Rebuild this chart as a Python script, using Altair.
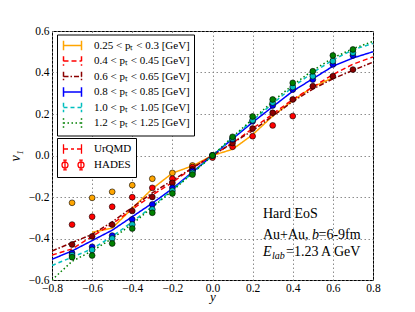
import altair as alt
import pandas as pd

# ---- categories ----
bins = ["0.25 < pₜ < 0.3 [GeV]", "0.4 < pₜ < 0.45 [GeV]", "0.6 < pₜ < 0.65 [GeV]",
        "0.8 < pₜ < 0.85 [GeV]", "1.0 < pₜ < 1.05 [GeV]", "1.2 < pₜ < 1.25 [GeV]"]
colors = ["#FFA500", "#FF0000", "#8B0000", "#0000FF", "#00BFBF", "#008000"]
dashes = [[1, 0], [5, 3], [5, 2, 1.5, 2], [1, 0], [4, 3], [1.5, 2.5]]
sources = ["UrQMD", "HADES"]

# ---- UrQMD curves ----
x_full = [-0.8, -0.7, -0.6, -0.5, -0.4, -0.3, -0.2, -0.1, 0.0, 0.1, 0.2, 0.3, 0.4, 0.5, 0.6, 0.7, 0.8]
x_orange = [-0.6, -0.5, -0.4, -0.3, -0.2, -0.1, 0.0, 0.1, 0.2, 0.3, 0.4, 0.5, 0.6]
u_orange = [-0.37, -0.35, -0.255, -0.16, -0.085, -0.05, 0.0, 0.03, 0.10, 0.19, 0.265, 0.33, 0.375]
u_red = [-0.48, -0.45, -0.39, -0.33, -0.26, -0.19, -0.13, -0.06, 0.0, 0.06, 0.13, 0.20, 0.27, 0.33, 0.39, 0.44, 0.475]
u_darkred = [-0.46, -0.42, -0.38, -0.32, -0.25, -0.18, -0.12, -0.06, 0.0, 0.06, 0.12, 0.19, 0.26, 0.32, 0.37, 0.41, 0.45]
u_blue = [-0.50, -0.46, -0.41, -0.36, -0.295, -0.23, -0.16, -0.08, 0.0, 0.08, 0.16, 0.235, 0.31, 0.37, 0.43, 0.47, 0.50]
u_cyan = [-0.53, -0.49, -0.45, -0.39, -0.32, -0.245, -0.165, -0.085, 0.0, 0.085, 0.17, 0.25, 0.33, 0.40, 0.46, 0.51, 0.54]
u_green = [-0.60, -0.51, -0.46, -0.40, -0.33, -0.25, -0.17, -0.085, 0.0, 0.09, 0.175, 0.26, 0.34, 0.41, 0.47, 0.515, 0.55]

# ---- HADES data ----
h_x_orange = [-0.7, -0.6, -0.5, -0.4, -0.3, -0.2, -0.1, 0.0]
h_x_red = [-0.7, -0.6, -0.5, -0.4, -0.3, -0.2, -0.1, 0.0, 0.1, 0.2, 0.3, 0.4]
h_x_full = [-0.7, -0.6, -0.5, -0.4, -0.3, -0.2, -0.1, 0.0, 0.1, 0.2, 0.3, 0.4, 0.5, 0.6, 0.7]
h_orange = [-0.228, -0.204, -0.175, -0.143, -0.112, -0.084, -0.048, 0.0]
h_red = [-0.333, -0.295, -0.247, -0.201, -0.156, -0.112, -0.056, -0.01, 0.042, 0.093, 0.145, 0.19]
h_darkred = [-0.429, -0.39, -0.333, -0.267, -0.2, -0.132, -0.067, 0.0, 0.06, 0.13, 0.206, 0.27, 0.334, 0.382, 0.414]
h_blue = [-0.47, -0.44, -0.386, -0.308, -0.236, -0.156, -0.075, 0.0, 0.078, 0.165, 0.241, 0.318, 0.366, 0.439, 0.482]
h_cyan = [-0.48, -0.455, -0.40, -0.333, -0.26, -0.17, -0.084, 0.0, 0.082, 0.17, 0.255, 0.33, 0.382, 0.455, 0.495]
h_green = [-0.49, -0.482, -0.424, -0.352, -0.276, -0.183, -0.092, 0.0, 0.09, 0.188, 0.27, 0.35, 0.406, 0.482, 0.511]

x_ticks = [-0.8, -0.6, -0.4, -0.2, 0.0, 0.2, 0.4, 0.6, 0.8]
y_ticks = [-0.6, -0.4, -0.2, 0.0, 0.2, 0.4, 0.6]

# ---- build tables ----
line_sets = [(x_orange, u_orange), (x_full, u_red), (x_full, u_darkred),
             (x_full, u_blue), (x_full, u_cyan), (x_full, u_green)]
pt_sets = [(h_x_orange, h_orange), (h_x_red, h_red), (h_x_full, h_darkred),
           (h_x_full, h_blue), (h_x_full, h_cyan), (h_x_full, h_green)]
lines_rows, pts_rows = [], []
for i, b in enumerate(bins):
    for xv, yv in zip(*line_sets[i]):
        lines_rows.append({"x": xv, "v": yv, "bin": b})
    for xv, yv in zip(*pt_sets[i]):
        pts_rows.append({"x": xv, "v": yv, "bin": b, "src": "HADES", "k": i})
lines_df = pd.DataFrame(lines_rows)
pts_df = pd.DataFrame(pts_rows)

FONT = "Liberation Serif, Times New Roman, serif"
xs = alt.Scale(domain=[-0.8, 0.8], nice=False, zero=False)
ys = alt.Scale(domain=[-0.6, 0.6], nice=False, zero=False)
x_enc = alt.X("x:Q", scale=xs, axis=alt.Axis(values=x_ticks, format=".1f", title="y",
                                             titleFontStyle="italic", titleFontSize=13,
                                             titleFontWeight="normal", titleBaseline="alphabetic",
                                             titleY=20.5, labelPadding=2.5))
y_enc = alt.Y("v:Q", scale=ys, axis=alt.Axis(values=y_ticks, format=".1f", title="v₁",
                                             titleFontStyle="italic", titleFontSize=14,
                                             titleFontWeight="normal", titlePadding=6,
                                             labelPadding=3))

eb_path = "M-0.75,0H2.25M-0.75,-0.8V0.8M2.25,-0.8V0.8"
urqmd_path = ("M-0.75,0H0.0M0.5,0H1.0M1.5,0H2.25"
              "M-0.75,-0.8V0.8M2.25,-0.8V0.8")
hades_path = ("M-0.5,-0.8V0.8M-0.8,-0.8H-0.2M-0.8,0.8H-0.2"
              "M2.17,-0.8V0.8M1.87,-0.8H2.47M1.87,0.8H2.47"
              "M0,0A0.5,0.5 0 1,1 -1,0A0.5,0.5 0 1,1 0,0Z"
              "M2.67,0A0.5,0.5 0 1,1 1.67,0A0.5,0.5 0 1,1 2.67,0Z")

leg_common = dict(title=None, orient="none", direction="vertical", fillColor="white",
                  strokeColor="black", padding=4, cornerRadius=0, symbolSize=144,
                  symbolStrokeWidth=1.5, labelFont=FONT, labelFontSize=11,
                  labelOffset=19, rowPadding=-0.5, labelLimit=300)

lines = alt.Chart(lines_df).mark_line(strokeWidth=1.5, clip=True).encode(
    x=x_enc, y=y_enc,
    color=alt.Color("bin:N", scale=alt.Scale(domain=bins, range=colors),
                    legend=alt.Legend(legendX=5, legendY=3.5, symbolType=eb_path, **leg_common)),
    strokeDash=alt.StrokeDash("bin:N", scale=alt.Scale(domain=bins, range=dashes),
                              legend=alt.Legend(legendX=5, legendY=3.5, symbolType=eb_path, **leg_common)),
    detail="bin:N",
)

points = alt.Chart(pts_df).mark_circle(size=34, stroke="black", strokeWidth=0.6,
                                       opacity=1, clip=True).encode(
    x=alt.X("x:Q", scale=xs), y=alt.Y("v:Q", scale=ys),
    fill=alt.Fill("bin:N", scale=alt.Scale(domain=bins, range=colors), legend=None),
    order="k:Q",
)

# legend carrier for UrQMD / HADES (drawn fully transparent)
leg2 = dict(leg_common)
leg2.update(symbolStrokeWidth=1.3, symbolFillColor="#FF0000", symbolStrokeColor="#FF0000",
            symbolOpacity=1, rowPadding=0)
legend_layer = alt.Chart(pts_df).mark_point(opacity=0, clip=True).encode(
    x=alt.X("x:Q", scale=xs), y=alt.Y("v:Q", scale=ys),
    shape=alt.Shape("src:N", scale=alt.Scale(domain=sources, range=[urqmd_path, hades_path]),
                    legend=alt.Legend(legendX=5, legendY=107, **leg2)),
)

ann = pd.DataFrame({"a": [0]})
def txt(s, px, py, size=14, style="normal"):
    return alt.Chart(ann).mark_text(text=s, align="left", baseline="alphabetic", font=FONT,
                                    fontSize=size, fontStyle=style, color="black").encode(
        x=alt.value(px), y=alt.value(py))

texts = [
    txt("Hard EoS", 211, 187),
    txt("Au+Au, ", 211, 208),
    txt("b", 260, 208, style="italic"),
    txt("=6-9fm", 266.5, 208),
    txt("E", 211, 225, style="italic"),
    txt("lab", 220, 228, size=10, style="italic"),
    txt("=1.23 A GeV", 234, 225),
]

chart = alt.layer(lines, points, legend_layer, *texts).properties(
    width=321, height=249,
    padding={"left": 44, "top": 23, "right": 34, "bottom": 24},
    autosize=alt.AutoSizeParams(type="none"),
).configure(font=FONT).configure_view(stroke="black", strokeWidth=1).configure_axis(
    labelFont=FONT, labelFontSize=11.5, labelColor="black", titleColor="black",
    titleFont=FONT, domain=False, ticks=False, labelFlush=False,
    grid=True, gridColor="#808080", gridDash=[1.5, 2.5], gridWidth=0.9, gridOpacity=1,
)

chart.save("out.html", embed_options={"renderer": "svg", "actions": False})
